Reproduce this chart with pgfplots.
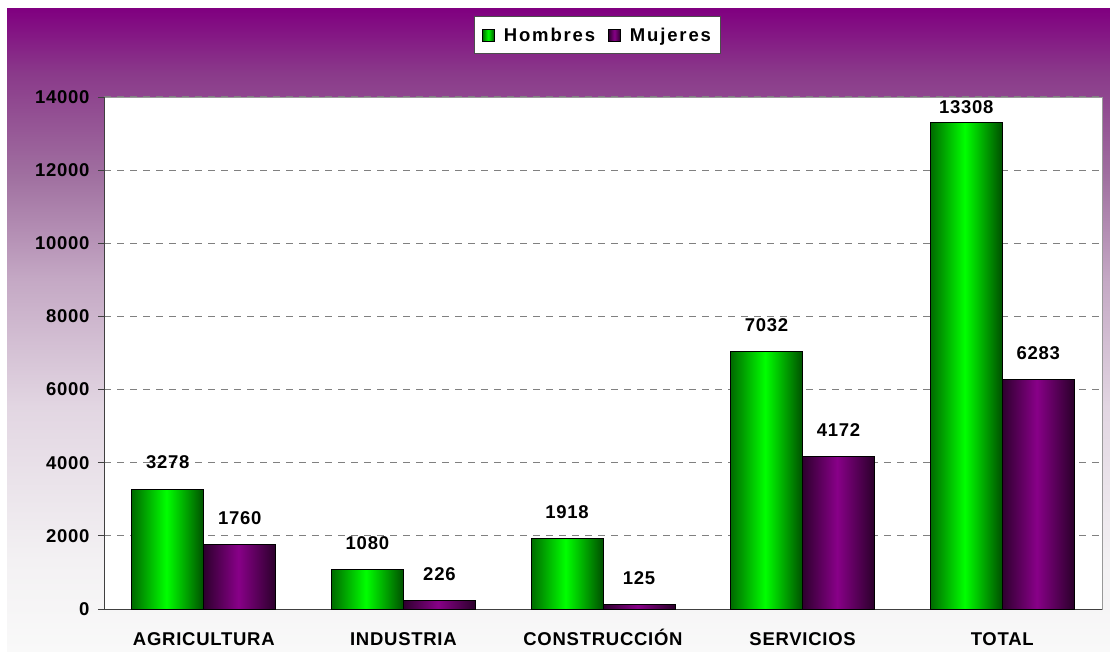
\documentclass[border=0pt]{standalone}
\usepackage{fontspec}
\setmainfont{Liberation Sans}[LetterSpace=4]
\newfontfamily\legfont{Liberation Sans}[LetterSpace=10]
\usepackage{pgfplots}
\pgfplotsset{compat=1.18}
\definecolor{bgA}{HTML}{800080}
\definecolor{bgB}{HTML}{8A3A8A}
\definecolor{bgC}{HTML}{A070A0}
\definecolor{bgD}{HTML}{C4A8C4}
\definecolor{bgE}{HTML}{E2D6E2}
\definecolor{bgF}{HTML}{F3F1F3}
\definecolor{bgG}{HTML}{F9F9F9}
\definecolor{gL}{HTML}{006A00}
\definecolor{gM}{HTML}{00FF00}
\definecolor{gR}{HTML}{005000}
\definecolor{pL}{HTML}{2E002E}
\definecolor{pM}{HTML}{880088}
\definecolor{pR}{HTML}{2A002A}
\definecolor{gridgray}{HTML}{808080}
\pgfdeclarehorizontalshading{greenbar}{100bp}{color(0bp)=(gL); color(25bp)=(gL); color(49bp)=(gM); color(75bp)=(gR); color(100bp)=(gR)}
\pgfdeclarehorizontalshading{purplebar}{100bp}{color(0bp)=(pL); color(25bp)=(pL); color(49bp)=(pM); color(75bp)=(pR); color(100bp)=(pR)}
\pgfdeclareverticalshading{bgshade}{100bp}{color(0bp)=(bgG); color(25bp)=(bgG); color(32bp)=(bgF); color(44bp)=(bgE); color(54bp)=(bgD); color(62bp)=(bgC); color(70bp)=(bgB); color(75bp)=(bgA); color(100bp)=(bgA)}
\pgfplotsset{
  hbar/.style={ybar, bar width=72pt, bar shift=-36pt, draw=black, line width=1pt, shading=greenbar, shade,
    every node near coord/.append style={xshift=-36pt},
    legend image code/.code={\draw[fill=gM, draw=black, line width=0.8pt] (0pt,-6pt) rectangle (12pt,6pt);}},
  mbar/.style={ybar, bar width=72pt, bar shift=36pt, draw=black, line width=1pt, shading=purplebar, shade,
    every node near coord/.append style={xshift=36pt},
    legend image code/.code={\draw[fill=pM, draw=black, line width=0.8pt] (0pt,-6pt) rectangle (12pt,6pt);}},
}
\begin{document}
\begin{tikzpicture}[x=1pt,y=1pt]
\fill[white] (0,0) rectangle (1110,651);
\shade[shading=bgshade] (7,0) rectangle (1110,642);
\begin{axis}[
  at={(104pt,42pt)}, anchor=south west,
  scale only axis, width=998pt, height=512pt,
  xmin=-0.5, xmax=4.5, ymin=0, ymax=14000,
  axis background/.style={fill=white, draw=black!40, line width=0.8pt},
  axis x line*=bottom, axis y line*=left,
  axis line style={black!75, line width=1pt},
  xtick={0,1,2,3,4},
  xticklabels={AGRICULTURA,INDUSTRIA,CONSTRUCCIÓN,SERVICIOS,TOTAL},
  major x tick style={draw=none},
  extra x ticks={-0.5,0.5,1.5,2.5,3.5,4.5},
  extra x tick labels={},
  extra x tick style={major tick length=6pt, tick style={black!75, line width=0.8pt}, grid=none},
  ytick={0,2000,...,14000},
  scaled y ticks=false,
  ymajorgrids,
  major grid style={gridgray, dash pattern=on 7pt off 6pt, line width=1pt},
  tick align=outside,
  major tick length=6pt,
  ytick style={black!75, line width=0.8pt},
  /pgf/number format/1000 sep={},
  /pgf/number format/assume math mode=true,
  tick label style={font=\fontsize{18.5}{20}\selectfont\bfseries, black},
  yticklabel style={xshift=-5pt},
  xticklabel style={anchor=base, yshift=-30pt},
  nodes near coords,
  every node near coord/.append style={font=\fontsize{18.5}{20}\selectfont\bfseries, black, inner sep=0pt, anchor=south, yshift=19.5pt},
  legend columns=2,
  legend style={at={(axis description cs:0.4945,1.158)}, anchor=north, draw=black!70, line width=1pt, fill=white,
    font=\fontsize{18.5}{20}\selectfont\bfseries\legfont, inner xsep=8pt, inner ysep=9pt,
    /tikz/every odd column/.append style={column sep=7pt},
    /tikz/every even column/.append style={column sep=11pt}},
]
\addplot[hbar] coordinates {(0,3278)};
\addlegendentry{Hombres}
\addplot[mbar] coordinates {(0,1760)};
\addlegendentry{Mujeres}
\addplot[hbar, forget plot] coordinates {(1,1080)};
\addplot[mbar, forget plot] coordinates {(1,226)};
\addplot[hbar, forget plot] coordinates {(2,1918)};
\addplot[mbar, forget plot] coordinates {(2,125)};
\addplot[hbar, forget plot] coordinates {(3,7032)};
\addplot[mbar, forget plot] coordinates {(3,4172)};
\addplot[hbar, forget plot, every node near coord/.append style={yshift=-11pt}] coordinates {(4,13308)};
\addplot[mbar, forget plot] coordinates {(4,6283)};
\end{axis}
\end{tikzpicture}
\end{document}
